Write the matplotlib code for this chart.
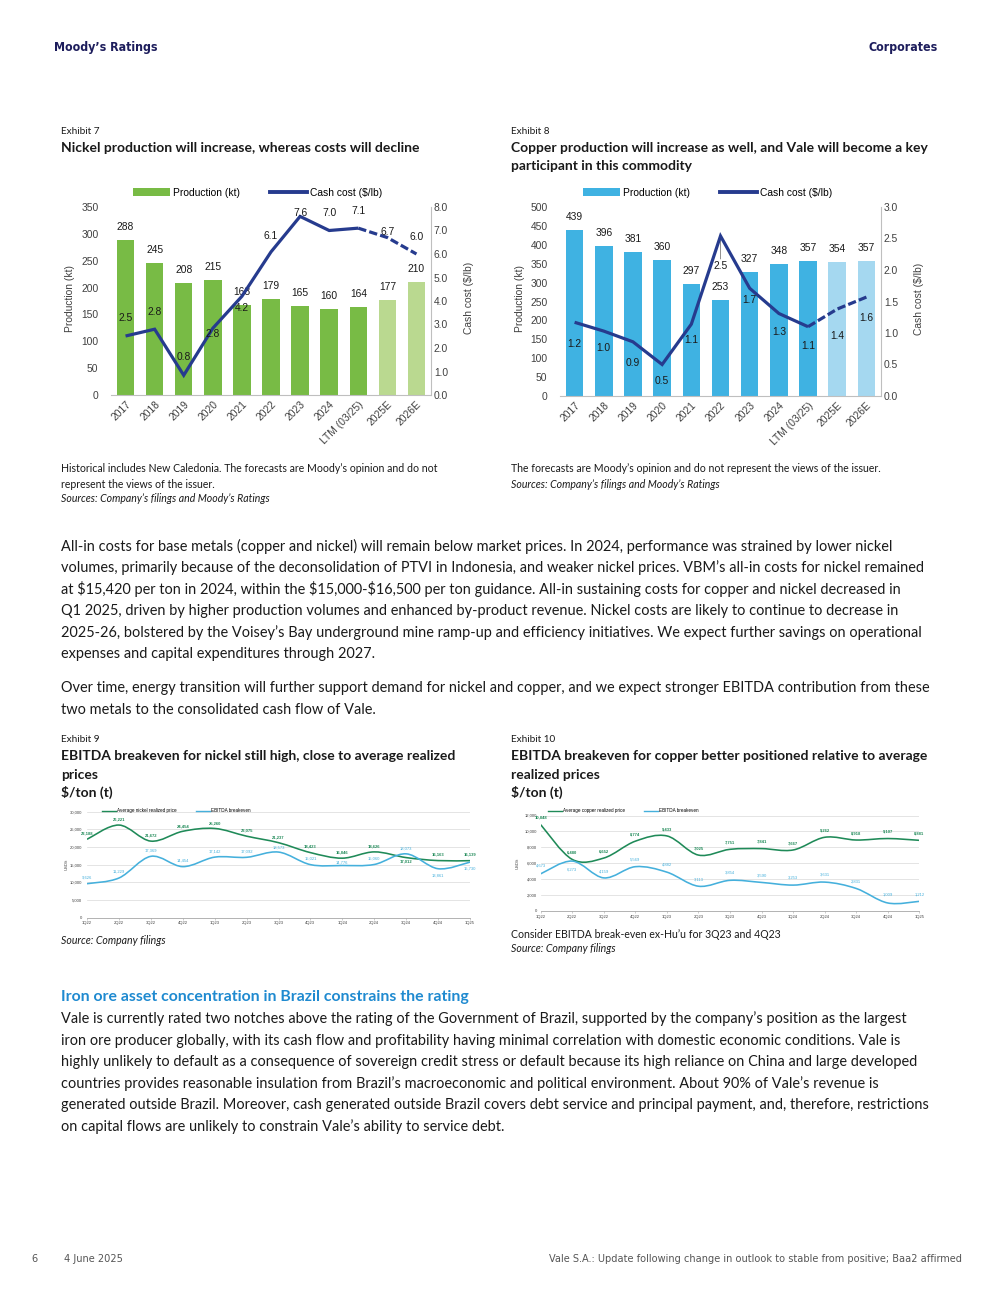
import numpy as np
import matplotlib
matplotlib.use("Agg")
import matplotlib.pyplot as plt
from matplotlib import font_manager
from matplotlib.path import Path
from matplotlib.patches import PathPatch, Patch
from matplotlib.lines import Line2D
from matplotlib.ticker import FuncFormatter, MultipleLocator

# ---------------- data ----------------
years = ['2017', '2018', '2019', '2020', '2021', '2022', '2023', '2024', 'LTM (03/25)', '2025E', '2026E']
n_forecast = 2
nickel_prod = [288, 245, 208, 215, 168, 179, 165, 160, 164, 177, 210]
nickel_cost = [2.51, 2.80, 0.84, 2.84, 4.2, 6.09, 7.6, 7.0, 7.1, 6.7, 6.0]
copper_prod = [439, 396, 381, 360, 297, 253, 327, 348, 357, 354, 357]
copper_cost = [1.17, 1.03, 0.86, 0.50, 1.14, 2.54, 1.71, 1.31, 1.10, 1.38, 1.57]

quarters = ['1Q22', '2Q22', '3Q22', '4Q22', '1Q23', '2Q23', '3Q23', '4Q23', '1Q24', '2Q24', '3Q24', '4Q24', '1Q25']
nickel_price = [22188, 26221, 21672, 24454, 25260, 23075, 21237, 18423, 16846, 18626, 17012, 16163, 16139]
nickel_be = [9626, 11229, 17369, 14454, 17142, 17092, 18573, 15021, 14776, 15060, 18073, 13861, 15730]
copper_price = [10848, 6480, 6652, 8774, 9433, 7025, 7751, 7841, 7667, 9262, 8918, 9107, 8881]
copper_be = [4673, 6273, 4159, 5569, 4882, 3113, 3854, 3590, 3253, 3631, 2831, 1009, 1212]

# ---------------- style ----------------
W, H = 997, 1302
fig = plt.figure(figsize=(W / 100, H / 100), dpi=100)
TXT = ['Lato', 'DejaVu Sans']
CHART = ['Liberation Sans', 'DejaVu Sans']

# condensed family for header / footer
_fonts = font_manager.fontManager.ttflist
_cond = [f for f in _fonts if f.name == 'DejaVu Sans' and 'condensed' in str(f.stretch).lower()]
_narrow = [f for f in _fonts if f.name == 'Liberation Sans Narrow']
if _cond:
    COND, COND_STRETCH, COND_SCALE = ['DejaVu Sans'], 'condensed', 1.0
elif _narrow:
    COND, COND_STRETCH, COND_SCALE = ['Liberation Sans Narrow'], 'normal', 1.0
else:
    COND, COND_STRETCH, COND_SCALE = ['Roboto', 'DejaVu Sans'], 'normal', 0.93

DARK = '#1a1a1a'
NAVY_H = '#1d1d5c'
GREEN_BAR, GREEN_LIGHT = '#78bb45', '#bad990'
BLUE_BAR, BLUE_LIGHT = '#3fb2e2', '#a5d8f0'
NAVY = '#263b8e'
LGREEN, LBLUE = '#1f8a58', '#45b0dc'
TICK = '#404040'
PX2PT = 0.72
BODY = 10.47
SMALL = 3.0
LEG_SMALL = 3.35


def fx(x):
    return x / W


def fy(y):
    return 1 - y / H


def axes_px(l, t, r, b):
    return fig.add_axes([fx(l), fy(b), (r - l) / W, (b - t) / H])


def put(x, y, s, size=BODY, weight='normal', style='normal', color=DARK, ha='left', family=TXT, **kw):
    fig.text(fx(x), fy(y), s.replace('$', r'\$'), fontsize=size, fontweight=weight, fontstyle=style,
             color=color, ha=ha, va='center', family=family, **kw)


def put_cond(x, y, s, size, **kw):
    put(x, y, s, size=size * COND_SCALE, family=COND, fontstretch=COND_STRETCH, **kw)


def smooth_path(xs, ys):
    pts = np.column_stack([xs, ys]).astype(float)
    n = len(pts)
    verts = [pts[0]]
    codes = [Path.MOVETO]
    for i in range(n - 1):
        p0 = pts[i - 1] if i > 0 else pts[i]
        p1, p2 = pts[i], pts[i + 1]
        p3 = pts[i + 2] if i + 2 < n else pts[i + 1]
        verts += [p1 + (p2 - p0) / 6, p2 - (p3 - p1) / 6, p2]
        codes += [Path.CURVE4] * 3
    return Path(verts, codes)


# ---------------- bar + line charts ----------------
def bar_line_chart(box, prod, cost, c_act, c_fc, pmax, pstep, cmax, cstep, cost_off, legend_x,
                   ylab_l_x, ylab_r_x, leader=None):
    l, t, r, b = box
    ax = axes_px(l, t, r, b)
    x = np.arange(len(years))
    cols = [c_act] * (len(years) - n_forecast) + [c_fc] * n_forecast
    ax.bar(x, prod, width=0.6, color=cols, zorder=2)
    ax.set_xlim(-0.5, len(years) - 0.5)
    ax.set_ylim(0, pmax)
    ax.yaxis.set_major_locator(MultipleLocator(pstep))
    for i, v in enumerate(prod):
        ax.annotate(f'{v}', (i, v), xytext=(0, 13 * PX2PT), textcoords='offset points', ha='center',
                    va='center', fontsize=7.4, family=CHART, color=DARK, zorder=5)
    for s in ['top', 'left', 'right']:
        ax.spines[s].set_visible(False)
    ax.spines['bottom'].set_color('#bfbfbf')
    ax.tick_params(axis='y', length=0, pad=9, labelsize=7.4, labelcolor=TICK)
    ax.tick_params(axis='x', length=0, pad=3, labelsize=7.4, labelcolor=TICK)
    ax.set_xticks(x)
    ax.set_xticklabels(years, rotation=45, ha='right', rotation_mode='anchor', family=CHART)
    for lab in ax.get_yticklabels():
        lab.set_family(CHART)

    ax2 = ax.twinx()
    ax2.set_ylim(0, cmax)
    ax2.yaxis.set_major_locator(MultipleLocator(cstep))
    ax2.yaxis.set_major_formatter(FuncFormatter(lambda v, p: f'{v:.1f}'))
    for s in ['top', 'left', 'bottom']:
        ax2.spines[s].set_visible(False)
    ax2.spines['right'].set_color('#bfbfbf')
    ax2.tick_params(axis='y', length=0, pad=2, labelsize=7.4, labelcolor=TICK)
    for lab in ax2.get_yticklabels():
        lab.set_family(CHART)
    na = len(years) - n_forecast
    ax2.plot(x[:na], cost[:na], color=NAVY, lw=2.3, solid_joinstyle='miter', solid_capstyle='butt', zorder=4)
    ax2.plot(x[na - 1:], cost[na - 1:], color=NAVY, lw=2.3, dashes=(2.6, 1.0), dash_capstyle='butt', zorder=4)
    for i, v in enumerate(cost):
        ax2.annotate(f'{v:.1f}', (i, v), xytext=(0, cost_off[i] * PX2PT), textcoords='offset points',
                     ha='center', va='center', fontsize=7.4, family=CHART, color=DARK, zorder=6)
    if leader is not None:
        i = leader
        ax2.annotate('', (i, cost[i]), xytext=(0, -23 * PX2PT), textcoords='offset points',
                     arrowprops=dict(arrowstyle='-', color='#7f7f7f', lw=0.6, shrinkA=0, shrinkB=2))

    handles = [Patch(facecolor=c_act, edgecolor='none'), Line2D([], [], color=NAVY, lw=2.8)]
    fig.legend(handles, ['Production (kt)', 'Cash cost ($/lb)'], loc='center left',
               bbox_to_anchor=(fx(legend_x), fy(193)), ncol=2, frameon=False,
               handlelength=3.6, handleheight=0.8, handletextpad=0.25, columnspacing=3.0,
               borderpad=0, borderaxespad=0, prop={'family': CHART, 'size': 7.4})
    ymid = (t + b) / 2 - 3
    put(ylab_l_x, ymid, 'Production (kt)', size=7.4, color=TICK, ha='center', family=CHART, rotation=90)
    put(ylab_r_x, ymid, 'Cash cost ($/lb)', size=7.4, color=TICK, ha='center', family=CHART, rotation=90)


bar_line_chart((111, 207, 431, 395), nickel_prod, nickel_cost, GREEN_BAR, GREEN_LIGHT, 350, 50, 8, 1,
               [18, 17, 18, -6, -12, 16, 3, 17, 17.5, 6, 17], 133, 70, 469)
bar_line_chart((560, 207, 881, 396), copper_prod, copper_cost, BLUE_BAR, BLUE_LIGHT, 500, 50, 3, 0.5,
               [-22, -17, -21.5, -17, -16, -30, -12, -19, -19, -27, -21], 583, 520, 919, leader=5)


# ---------------- smooth line charts ----------------
def smooth_chart(box, price, be, ymax, ystep, off_p, off_b, labels, leg_x, leg_gap, ylab_x, ypad):
    l, t, r, b = box
    ax = axes_px(l, t, r, b)
    x = np.arange(len(quarters))
    ax.set_xlim(0, len(quarters) - 1)
    ax.set_ylim(0, ymax)
    ax.yaxis.set_major_locator(MultipleLocator(ystep))
    ax.yaxis.set_major_formatter(FuncFormatter(lambda v, p: f'{int(v):,}'))
    ax.grid(axis='y', color='#d9d9d9', lw=0.5)
    ax.set_axisbelow(True)
    for s in ['top', 'left', 'right']:
        ax.spines[s].set_visible(False)
    ax.spines['bottom'].set_color('#a6a6a6')
    ax.spines['bottom'].set_linewidth(0.6)
    ax.set_xticks(x)
    ax.set_xticklabels(quarters, family=CHART)
    ax.tick_params(axis='y', length=0, pad=ypad, labelsize=SMALL, labelcolor=TICK)
    ax.tick_params(axis='x', length=1.5, width=0.4, color='#a6a6a6', pad=1.2, labelsize=SMALL, labelcolor=TICK)
    for lab in ax.get_yticklabels():
        lab.set_family(CHART)
    ax.add_patch(PathPatch(smooth_path(x, price), fill=False, edgecolor=LGREEN, lw=1.15, zorder=3))
    ax.add_patch(PathPatch(smooth_path(x, be), fill=False, edgecolor=LBLUE, lw=1.15, zorder=3))
    for i, v in enumerate(price):
        ax.annotate(f'{v:,}', (i, v), xytext=(0, off_p[i] * PX2PT), textcoords='offset points', ha='center',
                    va='center', fontsize=SMALL, fontweight='bold', family=CHART, color=LGREEN, zorder=5)
    for i, v in enumerate(be):
        ax.annotate(f'{v:,}', (i, v), xytext=(0, off_b[i] * PX2PT), textcoords='offset points', ha='center',
                    va='center', fontsize=SMALL, family=CHART, color=LBLUE, zorder=5)
    handles = [Line2D([], [], color=LGREEN, lw=1.0), Line2D([], [], color=LBLUE, lw=1.0)]
    fig.legend(handles, labels, loc='center left', bbox_to_anchor=(fx(leg_x), fy(810.7)), ncol=2,
               frameon=False, handlelength=3.0, handletextpad=0.25, columnspacing=leg_gap,
               borderpad=0, borderaxespad=0, prop={'family': CHART, 'size': LEG_SMALL})
    put(ylab_x, (t + b) / 2, 'USD/t', size=SMALL, color=TICK, ha='center', family=CHART, rotation=90)


smooth_chart((87, 811.7, 470, 917.7), nickel_price, nickel_be, 30000, 5000,
             [6, 6, 5.3, 4.7, 4.7, 6, 5.3, 6, 5.5, 5.2, -4, 6, 6.3],
             [6.3, 6.3, 5.3, 6.3, 5.3, 5.7, 4.7, 6.3, 3, 6, 5.5, -7, -6.3],
             ['Average nickel realized price', 'EBITDA breakeven'], 101.7, 4.2, 66.5, 3.6)
smooth_chart((540.7, 815.5, 919.3, 911), copper_price, copper_be, 12000, 2000,
             [7] * 13,
             [8, -8, 6.7, 7.5, 7.6, 7, 7.8, 7.3, 7.7, 7.3, 6.7, 8, 7.3],
             ['Average copper realized price', 'EBITDA breakeven'], 548, 4.0, 517.7, 2.7)

# ---------------- page text ----------------
put_cond(54, 47, 'Moody’s Ratings', 8.9, weight='bold', color=NAVY_H)
put_cond(938, 47, 'Corporates', 8.9, weight='bold', color=NAVY_H, ha='right')

put(61, 131, 'Exhibit 7', size=7.2)
put(61, 148, 'Nickel production will increase, whereas costs will decline', size=10.0, weight='bold')
put(511, 131, 'Exhibit 8', size=7.2)
put(511, 148, 'Copper production will increase as well, and Vale will become a key', size=10.0, weight='bold')
put(511, 166, 'participant in this commodity', size=10.0, weight='bold')

put(61, 469, 'Historical includes New Caledonia. The forecasts are Moody’s opinion and do not', size=7.6)
put(61, 484, 'represent the views of the issuer.', size=7.6)
put(61, 498, 'Sources: Company’s filings and Moody’s Ratings', size=7.6, style='italic')
put(511, 469, 'The forecasts are Moody’s opinion and do not represent the views of the issuer.', size=7.6)
put(511, 484, 'Sources: Company’s filings and Moody’s Ratings', size=7.6, style='italic')

para1 = [
    'All-in costs for base metals (copper and nickel) will remain below market prices. In 2024, performance was strained by lower nickel',
    'volumes, primarily because of the deconsolidation of PTVI in Indonesia, and weaker nickel prices. VBM’s all-in costs for nickel remained',
    'at $15,420 per ton in 2024, within the $15,000-$16,500 per ton guidance. All-in sustaining costs for copper and nickel decreased in',
    'Q1 2025, driven by higher production volumes and enhanced by-product revenue. Nickel costs are likely to continue to decrease in',
    '2025-26, bolstered by the Voisey’s Bay underground mine ramp-up and efficiency initiatives. We expect further savings on operational',
    'expenses and capital expenditures through 2027.',
]
for i, s in enumerate(para1):
    put(61, 546 + i * 21.6, s)
para2 = [
    'Over time, energy transition will further support demand for nickel and copper, and we expect stronger EBITDA contribution from these',
    'two metals to the consolidated cash flow of Vale.',
]
for i, s in enumerate(para2):
    put(61, 688 + i * 21.6, s)

put(61, 740, 'Exhibit 9', size=7.2)
put(61, 756, 'EBITDA breakeven for nickel still high, close to average realized', size=10.0, weight='bold')
put(61, 775, 'prices', size=10.0, weight='bold')
put(61, 792, '$/ton (t)', size=10.0, weight='bold')
put(511, 740, 'Exhibit 10', size=7.2)
put(511, 756, 'EBITDA breakeven for copper better positioned relative to average', size=10.0, weight='bold')
put(511, 775, 'realized prices', size=10.0, weight='bold')
put(511, 792, '$/ton (t)', size=10.0, weight='bold')

put(61, 941, 'Source: Company filings', size=7.6, style='italic')
put(511, 935, 'Consider EBITDA break-even ex-Hu’u for 3Q23 and 4Q23', size=7.6)
put(511, 949, 'Source: Company filings', size=7.6, style='italic')

put(61, 997, 'Iron ore asset concentration in Brazil constrains the rating', size=11.4, weight='bold', color='#1f8ad0')
para3 = [
    'Vale is currently rated two notches above the rating of the Government of Brazil, supported by the company’s position as the largest',
    'iron ore producer globally, with its cash flow and profitability having minimal correlation with domestic economic conditions. Vale is',
    'highly unlikely to default as a consequence of sovereign credit stress or default because its high reliance on China and large developed',
    'countries provides reasonable insulation from Brazil’s macroeconomic and political environment. About 90% of Vale’s revenue is',
    'generated outside Brazil. Moreover, cash generated outside Brazil covers debt service and principal payment, and, therefore, restrictions',
    'on capital flows are unlikely to constrain Vale’s ability to service debt.',
]
for i, s in enumerate(para3):
    put(61, 1019 + i * 21.6, s)

put_cond(31, 1259, '6', 7.8, color='#555555')
put_cond(64, 1259, '4 June 2025', 7.8, color='#555555')
put_cond(962, 1259, 'Vale S.A.: Update following change in outlook to stable from positive; Baa2 affirmed', 7.8,
         color='#555555', ha='right')

fig.savefig('out.png', dpi=100)
